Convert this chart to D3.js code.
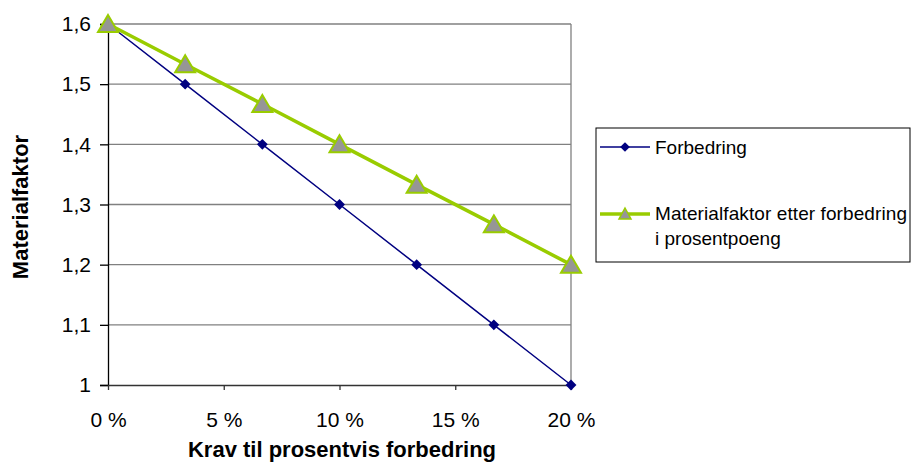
<!DOCTYPE html>
<html>
<head>
<meta charset="utf-8">
<script src="https://cdnjs.cloudflare.com/ajax/libs/d3/7.8.5/d3.min.js"></script>
<style>
  body { margin: 0; background: #fff; }
  svg { font-family: "Liberation Sans", Arial, sans-serif; }
</style>
</head>
<body>
<svg id="chart" width="912" height="466"></svg>
<script>
// data
const xValues = [0, 3.333, 6.667, 10, 13.333, 16.667, 20];
const forbedring = [1.6, 1.5, 1.4, 1.3, 1.2, 1.1, 1.0];
const materialfaktor = [1.6, 1.533, 1.467, 1.4, 1.333, 1.267, 1.2];
const xTicks = [0, 5, 10, 15, 20];
const yTicks = [1, 1.1, 1.2, 1.3, 1.4, 1.5, 1.6];
const seriesNames = ["Forbedring", "Materialfaktor etter forbedring", "i prosentpoeng"];

const svg = d3.select("#chart");
const plotL = 108, plotR = 571, plotT = 24, plotB = 385;

const x = d3.scaleLinear().domain([0, 20]).range([plotL, plotR]);
const y = d3.scaleLinear().domain([1, 1.6]).range([plotB, plotT]);

// gridlines
svg.append("g").selectAll("line")
  .data(yTicks.slice(1))
  .enter().append("line")
  .attr("x1", plotL).attr("x2", plotR)
  .attr("y1", d => y(d)).attr("y2", d => y(d))
  .attr("stroke", "#808080").attr("stroke-width", 1.3);

// right border
svg.append("line")
  .attr("x1", plotR).attr("x2", plotR).attr("y1", plotT).attr("y2", plotB)
  .attr("stroke", "#808080").attr("stroke-width", 1.3);

// y axis
const yAxis = svg.append("g")
  .attr("transform", `translate(${plotL},0)`)
  .call(d3.axisLeft(y).tickValues(yTicks).tickSize(8).tickPadding(9)
    .tickFormat(d => d3.format(".1~f")(d).replace(".", ",")));
yAxis.select(".domain").attr("stroke", "#000").attr("stroke-width", 1.3);
yAxis.selectAll(".tick line").attr("stroke", "#000").attr("stroke-width", 1.3);
yAxis.selectAll("text").attr("font-size", 21).attr("fill", "#000")
  .attr("font-family", "Liberation Sans, Arial, sans-serif");

// x axis
const xAxis = svg.append("g")
  .attr("transform", `translate(0,${plotB})`)
  .call(d3.axisBottom(x).tickValues(xTicks).tickSize(5).tickSizeOuter(0)
    .tickFormat(d => d + " %"));
xAxis.select(".domain").attr("stroke", "#333").attr("stroke-width", 1.5);
xAxis.selectAll(".tick line").attr("stroke", "#333").attr("stroke-width", 1.3);
xAxis.selectAll("text").attr("font-size", 21).attr("fill", "#000")
  .attr("y", 42).attr("dy", 0)
  .attr("font-family", "Liberation Sans, Arial, sans-serif");

// axis titles
svg.append("text")
  .attr("x", 342).attr("y", 457)
  .attr("text-anchor", "middle")
  .attr("font-size", 22).attr("font-weight", "bold")
  .text("Krav til prosentvis forbedring");

svg.append("text")
  .attr("transform", `translate(28,207) rotate(-90)`)
  .attr("text-anchor", "middle")
  .attr("font-size", 22).attr("font-weight", "bold")
  .text("Materialfaktor");

const line = d3.line().x(d => x(d[0])).y(d => y(d[1]));
const dataA = xValues.map((v, i) => [v, forbedring[i]]);
const dataB = xValues.map((v, i) => [v, materialfaktor[i]]);

// navy series
svg.append("path").datum(dataA)
  .attr("d", line).attr("fill", "none")
  .attr("stroke", "#000080").attr("stroke-width", 1.5);
svg.append("g").selectAll("path")
  .data(dataA).enter().append("path")
  .attr("transform", d => `translate(${x(d[0])},${y(d[1])})`)
  .attr("d", d3.symbol(d3.symbolDiamond2, 75))
  .attr("fill", "#000080");

// green series
svg.append("path").datum(dataB)
  .attr("d", line).attr("fill", "none")
  .attr("stroke", "#99cc00").attr("stroke-width", 3.5);
const tri = "M0,-9 L10,8 L-10,8 Z";
svg.append("g").selectAll("path")
  .data(dataB).enter().append("path")
  .attr("transform", d => `translate(${x(d[0])},${y(d[1])})`)
  .attr("d", tri)
  .attr("fill", "#969696").attr("stroke", "#99cc00").attr("stroke-width", 2);

// legend
const lg = svg.append("g");
lg.append("rect")
  .attr("x", 596).attr("y", 128).attr("width", 314).attr("height", 134)
  .attr("fill", "#fff").attr("stroke", "#000").attr("stroke-width", 1);

lg.append("line").attr("x1", 600).attr("x2", 650).attr("y1", 147).attr("y2", 147)
  .attr("stroke", "#000080").attr("stroke-width", 1.5);
lg.append("path").attr("transform", "translate(625,147)")
  .attr("d", d3.symbol(d3.symbolDiamond2, 60)).attr("fill", "#000080");
lg.append("text").attr("x", 655).attr("y", 154).attr("font-size", 19).text(seriesNames[0]);

lg.append("line").attr("x1", 600).attr("x2", 650).attr("y1", 214).attr("y2", 214)
  .attr("stroke", "#99cc00").attr("stroke-width", 3.5);
lg.append("path").attr("transform", "translate(625,214)")
  .attr("d", "M0,-6 L6,5 L-6,5 Z")
  .attr("fill", "#969696").attr("stroke", "#99cc00").attr("stroke-width", 1.5);
lg.append("text").attr("x", 655).attr("y", 220).attr("font-size", 19)
  .attr("textLength", 252).text(seriesNames[1]);
lg.append("text").attr("x", 655).attr("y", 245).attr("font-size", 19).text(seriesNames[2]);
</script>
</body>
</html>
